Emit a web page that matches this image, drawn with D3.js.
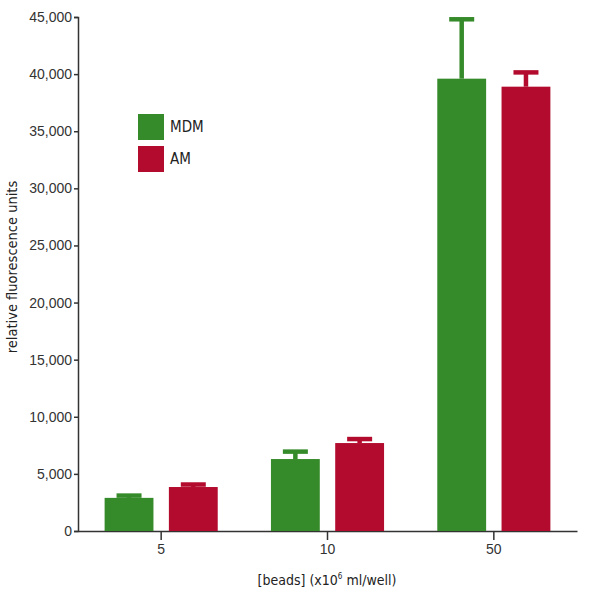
<!DOCTYPE html>
<html>
<head>
<meta charset="utf-8">
<script src="https://cdn.jsdelivr.net/npm/d3@7"></script>
<style>
  body { margin: 0; background: #fff; }
  svg { font-family: "DejaVu Sans Condensed", "DejaVu Sans", sans-serif; }
  .axis path, .axis line { stroke: #333; stroke-width: 1.5; }
  .axis text { fill: #333; font-size: 14px; }
  .axis-label { fill: #222; font-size: 14px; }
</style>
</head>
<body>
<div id="chart"></div>
<script>
const categories = ["5", "10", "50"];
const seriesNames = ["MDM", "AM"];
const mdmValues = [2900, 6300, 39600];
const mdmErrors = [200, 650, 5200];
const amValues = [3850, 7700, 38900];
const amErrors = [220, 350, 1250];
const yTicks = [0, 5000, 10000, 15000, 20000, 25000, 30000, 35000, 40000, 45000];
const colors = ["#358a2a", "#b30b2d"];

const config = {
  width: 600,
  height: 602,
  margin: { top: 17, right: 23, bottom: 71, left: 78 }
};

const width = config.width - config.margin.left - config.margin.right;
const height = config.height - config.margin.top - config.margin.bottom;

const svg = d3.select("#chart").append("svg")
  .attr("width", config.width)
  .attr("height", config.height);

const g = svg.append("g")
  .attr("transform", "translate(" + config.margin.left + "," + config.margin.top + ")");

const data = categories.map((c, i) => ({
  cat: c,
  bars: [
    { name: seriesNames[0], value: mdmValues[i], err: mdmErrors[i], color: colors[0] },
    { name: seriesNames[1], value: amValues[i], err: amErrors[i], color: colors[1] }
  ]
}));

const x0 = d3.scaleBand()
  .domain(categories)
  .range([0, width])
  .paddingInner(0.32)
  .paddingOuter(0.16);

const xTick = d3.scaleBand().domain(categories).range([0, width]);

const x1 = d3.scaleBand()
  .domain(seriesNames)
  .range([0, x0.bandwidth()])
  .paddingInner(0.24);

const y = d3.scaleLinear().domain([0, 45000]).range([height, 0]);

// y axis
g.append("g")
  .attr("class", "axis")
  .call(d3.axisLeft(y).tickValues(yTicks).tickSize(4).tickSizeOuter(4)
    .tickFormat(d3.format(",")))
  .call(s => s.selectAll("text").attr("x", -6));

// x axis
const xAxis = g.append("g")
  .attr("class", "axis")
  .attr("transform", "translate(0," + height + ")")
  .call(d3.axisBottom(xTick).tickSize(9).tickSizeOuter(0));
xAxis.selectAll("text").attr("y", 13).attr("dy", "0.71em");

// bars
const groups = g.selectAll(".group")
  .data(data)
  .enter().append("g")
  .attr("transform", d => "translate(" + x0(d.cat) + ",0)");

groups.selectAll("rect.bar")
  .data(d => d.bars)
  .enter().append("rect")
  .attr("class", "bar")
  .attr("x", d => x1(d.name))
  .attr("y", d => y(d.value))
  .attr("width", x1.bandwidth())
  .attr("height", d => height - y(d.value))
  .attr("fill", d => d.color);

// error bars (upper only)
groups.selectAll("line.stem")
  .data(d => d.bars)
  .enter().append("line")
  .attr("x1", d => x1(d.name) + x1.bandwidth() / 2)
  .attr("x2", d => x1(d.name) + x1.bandwidth() / 2)
  .attr("y1", d => y(d.value))
  .attr("y2", d => y(d.value + d.err))
  .attr("stroke", d => d.color)
  .attr("stroke-width", 4.5);

groups.selectAll("line.cap")
  .data(d => d.bars)
  .enter().append("line")
  .attr("x1", d => x1(d.name) + x1.bandwidth() / 2 - 12.5)
  .attr("x2", d => x1(d.name) + x1.bandwidth() / 2 + 12.5)
  .attr("y1", d => y(d.value + d.err))
  .attr("y2", d => y(d.value + d.err))
  .attr("stroke", d => d.color)
  .attr("stroke-width", 4.5);

// legend
const legend = svg.append("g").attr("transform", "translate(138,114)");
seriesNames.forEach((name, i) => {
  legend.append("rect")
    .attr("x", 0)
    .attr("y", i * 32)
    .attr("width", 26)
    .attr("height", 26)
    .attr("fill", colors[i]);
  legend.append("text")
    .attr("x", 32)
    .attr("y", i * 32 + 13)
    .attr("dy", "0.35em")
    .attr("fill", "#222")
    .style("font-size", "15px")
    .text(name);
});

// axis labels
svg.append("text")
  .attr("class", "axis-label")
  .attr("text-anchor", "middle")
  .style("font-size", "14.5px")
  .attr("transform", "translate(17,267) rotate(-90)")
  .text("relative fluorescence units");

const xl = svg.append("text")
  .attr("class", "axis-label")
  .attr("text-anchor", "middle")
  .attr("x", 327)
  .attr("y", 585);
xl.append("tspan").text("[beads] (x10");
xl.append("tspan").attr("dy", -6).style("font-size", "8px").text("6");
xl.append("tspan").attr("dy", 6).text(" ml/well)");
</script>
</body>
</html>
